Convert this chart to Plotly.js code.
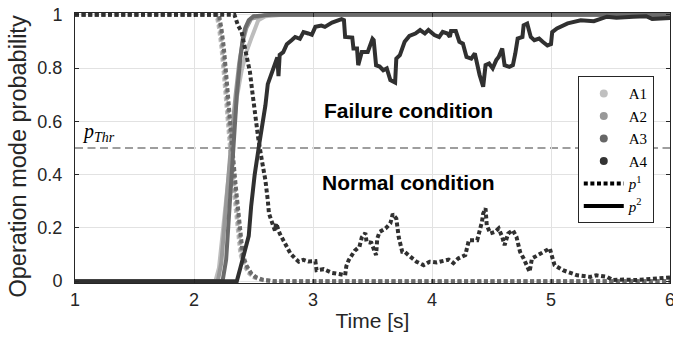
<!DOCTYPE html>
<html>
<head>
<meta charset="utf-8">
<script src="https://cdn.plot.ly/plotly-3.0.1.min.js"></script>
<style>html,body{margin:0;padding:0;background:#fff;}#chart{width:673px;height:343px;}</style>
</head>
<body>
<div id="chart"></div>
<script>
// ---- Data ----
const seriesNames = ['A1', 'A2', 'A3', 'A4'];
const seriesColors = ['#bdbdbd', '#999999', '#6b6b6b', '#303030'];
const pThr = 0.5;

// p^2 (solid) for A1..A3
const tA1p2 = [1, 2.18, 2.21, 2.24, 2.27, 2.30, 2.33, 2.36, 2.40, 2.44, 2.48, 2.51, 2.54, 2.60, 2.75, 6];
const yA1p2 = [0, 0, 0.05, 0.18, 0.33, 0.46, 0.58, 0.69, 0.79, 0.86, 0.91, 0.95, 0.98, 0.995, 1, 1];
const tA2p2 = [1, 2.20, 2.23, 2.26, 2.29, 2.32, 2.35, 2.38, 2.41, 2.44, 2.48, 2.60, 6];
const yA2p2 = [0, 0, 0.07, 0.25, 0.42, 0.56, 0.70, 0.82, 0.90, 0.95, 0.985, 1, 1];
const tA3p2 = [1, 2.24, 2.27, 2.30, 2.33, 2.36, 2.39, 2.41, 2.43, 2.46, 2.50, 2.65, 6];
const yA3p2 = [0, 0, 0.08, 0.30, 0.52, 0.70, 0.84, 0.91, 0.95, 0.98, 0.995, 1, 1];

// p^1 (dotted) for A1..A3
const tA1p1 = [1, 2.19, 2.21, 2.23, 2.25, 2.27, 2.29, 2.31, 2.33, 2.35, 2.37, 2.39, 2.42, 2.46, 2.50, 2.56, 2.65, 6];
const yA1p1 = [1, 1, 0.95, 0.88, 0.78, 0.66, 0.55, 0.46, 0.36, 0.26, 0.17, 0.10, 0.06, 0.03, 0.015, 0.005, 0, 0];
const tA2p1 = [1, 2.20, 2.22, 2.24, 2.26, 2.28, 2.30, 2.32, 2.34, 2.36, 2.38, 2.40, 2.43, 2.47, 2.51, 2.57, 2.66, 6];
const yA2p1 = [1, 1, 0.95, 0.88, 0.78, 0.66, 0.55, 0.46, 0.36, 0.26, 0.17, 0.10, 0.06, 0.03, 0.015, 0.005, 0, 0];
const tA3p1 = [1, 2.21, 2.23, 2.25, 2.27, 2.29, 2.31, 2.33, 2.35, 2.37, 2.39, 2.41, 2.44, 2.48, 2.52, 2.58, 2.67, 6];
const yA3p1 = [1, 1, 0.95, 0.88, 0.78, 0.66, 0.55, 0.46, 0.36, 0.26, 0.17, 0.10, 0.06, 0.03, 0.015, 0.005, 0, 0];

// A4 p^2 (solid)
const tA4p2 = [1, 2.36, 2.39, 2.43, 2.46, 2.48, 2.51, 2.55, 2.60, 2.62, 2.67, 2.70, 2.71, 2.72, 2.75, 2.78, 2.82, 2.85, 2.89, 2.92, 2.96, 2.99, 3.02, 3.07, 3.10, 3.16, 3.24, 3.26, 3.27, 3.33, 3.34, 3.37, 3.38, 3.41, 3.46, 3.50, 3.51, 3.53, 3.56, 3.59, 3.62, 3.65, 3.69, 3.70, 3.73, 3.77, 3.81, 3.86, 3.90, 3.94, 3.97, 4.02, 4.06, 4.09, 4.13, 4.15, 4.16, 4.20, 4.23, 4.26, 4.29, 4.33, 4.36, 4.37, 4.40, 4.43, 4.45, 4.48, 4.51, 4.54, 4.56, 4.59, 4.61, 4.65, 4.68, 4.70, 4.72, 4.76, 4.77, 4.80, 4.83, 4.86, 4.90, 4.93, 4.97, 5.00, 5.01, 5.05, 5.14, 5.25, 5.36, 5.47, 5.55, 5.69, 5.80, 5.85, 6.00];
const yA4p2 = [0, 0, 0.05, 0.12, 0.17, 0.28, 0.40, 0.52, 0.66, 0.74, 0.81, 0.84, 0.77, 0.85, 0.86, 0.89, 0.905, 0.917, 0.91, 0.935, 0.93, 0.925, 0.955, 0.96, 0.955, 0.971, 0.984, 0.98, 0.917, 0.915, 0.874, 0.874, 0.811, 0.861, 0.861, 0.91, 0.905, 0.811, 0.806, 0.792, 0.799, 0.755, 0.746, 0.836, 0.849, 0.899, 0.921, 0.93, 0.943, 0.93, 0.943, 0.924, 0.917, 0.936, 0.93, 0.917, 0.939, 0.939, 0.899, 0.892, 0.842, 0.836, 0.855, 0.83, 0.774, 0.73, 0.811, 0.817, 0.799, 0.83, 0.842, 0.874, 0.811, 0.805, 0.811, 0.855, 0.911, 0.917, 0.961, 0.967, 0.917, 0.905, 0.911, 0.899, 0.885, 0.89, 0.935, 0.949, 0.968, 0.98, 0.976, 0.993, 0.989, 0.993, 0.995, 0.985, 0.988];

// A4 p^1 (dotted)
const tA4p1 = [1, 2.34, 2.37, 2.40, 2.44, 2.47, 2.49, 2.51, 2.54, 2.57, 2.60, 2.62, 2.63, 2.66, 2.68, 2.69, 2.72, 2.78, 2.81, 2.85, 2.88, 2.92, 2.96, 3.02, 3.03, 3.09, 3.16, 3.23, 3.27, 3.28, 3.30, 3.35, 3.39, 3.41, 3.44, 3.45, 3.49, 3.53, 3.54, 3.56, 3.61, 3.65, 3.67, 3.70, 3.72, 3.75, 3.77, 3.82, 3.87, 3.93, 3.98, 4.04, 4.09, 4.14, 4.18, 4.22, 4.28, 4.29, 4.31, 4.38, 4.40, 4.42, 4.43, 4.45, 4.46, 4.49, 4.53, 4.56, 4.59, 4.61, 4.64, 4.68, 4.71, 4.74, 4.77, 4.80, 4.82, 4.84, 4.88, 4.91, 4.95, 4.99, 5.01, 5.03, 5.10, 5.22, 5.33, 5.38, 5.47, 5.52, 5.61, 5.72, 5.83, 5.92, 6.00];
const yA4p1 = [1, 1, 0.96, 0.936, 0.849, 0.786, 0.711, 0.636, 0.536, 0.454, 0.379, 0.304, 0.254, 0.215, 0.19, 0.217, 0.179, 0.129, 0.104, 0.085, 0.073, 0.08, 0.074, 0.075, 0.041, 0.045, 0.031, 0.026, 0.022, 0.056, 0.079, 0.114, 0.129, 0.164, 0.181, 0.148, 0.144, 0.098, 0.16, 0.185, 0.198, 0.217, 0.252, 0.235, 0.166, 0.11, 0.11, 0.091, 0.073, 0.06, 0.073, 0.07, 0.074, 0.081, 0.068, 0.085, 0.098, 0.119, 0.154, 0.154, 0.185, 0.223, 0.254, 0.273, 0.21, 0.179, 0.185, 0.198, 0.166, 0.135, 0.179, 0.191, 0.166, 0.11, 0.085, 0.056, 0.035, 0.085, 0.095, 0.1, 0.11, 0.123, 0.09, 0.06, 0.041, 0.022, 0.016, 0.022, 0.016, 0.004, 0.006, 0.004, 0.008, 0.011, 0.014];

const xTicks = [1, 2, 3, 4, 5, 6];
const yTicks = [0, 0.2, 0.4, 0.6, 0.8, 1];
const yTickLabels = ['0', '0.2', '0.4', '0.6', '0.8', '1'];

// ---- Build traces ----
const DOT = '4px,2.6px';
const LW = 4;
const sans = 'Liberation Sans, Arial, sans-serif';
const serif = 'Liberation Serif, Times New Roman, serif';

const p1Sets = [[tA1p1, yA1p1], [tA2p1, yA2p1], [tA3p1, yA3p1], [tA4p1, yA4p1]];
const p2Sets = [[tA1p2, yA1p2], [tA2p2, yA2p2], [tA3p2, yA3p2], [tA4p2, yA4p2]];

const traces = [];
for (let i = 0; i < 4; i++) {
  traces.push({x: p1Sets[i][0], y: p1Sets[i][1], mode: 'lines', showlegend: false, hoverinfo: 'skip',
    line: {color: seriesColors[i], width: LW, dash: DOT}});
  traces.push({x: p2Sets[i][0], y: p2Sets[i][1], mode: 'lines', showlegend: false, hoverinfo: 'skip',
    line: {color: seriesColors[i], width: LW}});
}
// legend-only entries
const legendColors = ['#c0c0c0', '#999999', '#666666', '#333333'];
for (let i = 0; i < 4; i++) {
  traces.push({x: [null], y: [null], mode: 'markers', name: seriesNames[i],
    marker: {color: legendColors[i], size: 8}});
}
traces.push({x: [null], y: [null], mode: 'lines', name: '<i>p</i><sup>1</sup>', line: {color: '#000', width: LW, dash: DOT}});
traces.push({x: [null], y: [null], mode: 'lines', name: '<i>p</i><sup>2</sup>', line: {color: '#000', width: LW}});

const axisCommon = {
  showline: true, linecolor: '#262626', linewidth: 1, mirror: 'ticks',
  ticks: 'inside', ticklen: 4, tickcolor: '#262626', tickwidth: 1,
  showgrid: true, gridcolor: '#e2e2e2', gridwidth: 1, zeroline: false,
  tickfont: {family: sans, size: 18, color: '#262626'}
};

const layout = {
  width: 673, height: 343,
  margin: {l: 75, r: 3, t: 13, b: 60},
  paper_bgcolor: '#fff', plot_bgcolor: '#fff',
  showlegend: true,
  xaxis: Object.assign({}, axisCommon, {
    range: [1, 6], tickvals: xTicks, ticktext: xTicks.map(String),
    ticklabeloverflow: 'allow',
    title: {text: 'Time [s]', font: {family: sans, size: 21, color: '#262626'}, standoff: 4}
  }),
  yaxis: Object.assign({}, axisCommon, {
    range: [-0.007, 1.007], tickvals: yTicks, ticktext: yTickLabels,
    ticklabelstandoff: 8
  }),
  legend: {
    x: 0.845, xanchor: 'left', y: 0.766, yanchor: 'top',
    bgcolor: '#fff', bordercolor: '#262626', borderwidth: 1,
    font: {family: serif, size: 15, color: '#000'},
    itemwidth: 40, tracegroupgap: 0
  },
  shapes: [{type: 'line', xref: 'paper', x0: 0, x1: 1, yref: 'y', y0: pThr, y1: pThr,
    line: {color: '#7f7f7f', width: 1.3, dash: '8px,4.5px'}, layer: 'below'}],
  annotations: [
    {x: -0.096, y: 0.4675, xref: 'paper', yref: 'y', text: 'Operation mode probability', showarrow: false,
      textangle: -90, font: {family: sans, size: 23.5, color: '#262626'}, xanchor: 'center', yanchor: 'middle'},
    {x: 3.8, y: 0.642, xref: 'x', yref: 'y', text: '<b>Failure condition</b>', showarrow: false,
      font: {family: sans, size: 21, color: '#000'}, xanchor: 'center', yanchor: 'middle'},
    {x: 3.8, y: 0.37, xref: 'x', yref: 'y', text: '<b>Normal condition</b>', showarrow: false,
      font: {family: sans, size: 21, color: '#000'}, xanchor: 'center', yanchor: 'middle'},
    {x: 1.04, y: pThr + 0.005, xref: 'x', yref: 'y', text: '<i>p</i><sub><i>Thr</i></sub>', showarrow: false,
      font: {family: serif, size: 20, color: '#000'}, xanchor: 'left', yanchor: 'bottom'}
  ]
};

Plotly.newPlot('chart', traces, layout, {staticPlot: true, displayModeBar: false});
</script>
</body>
</html>
